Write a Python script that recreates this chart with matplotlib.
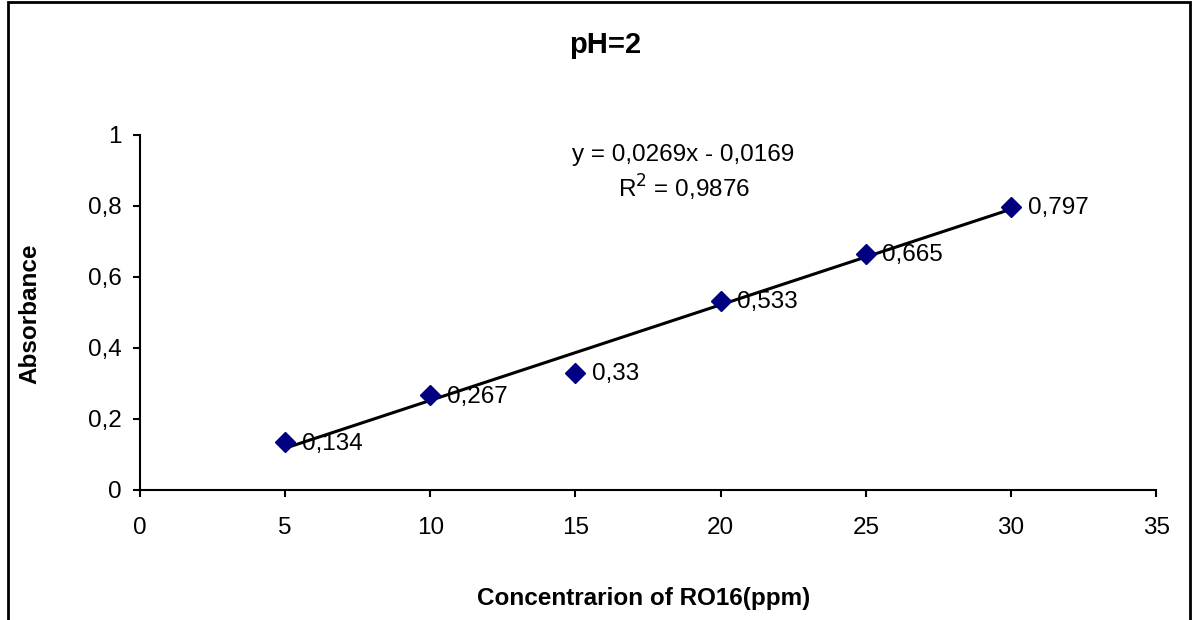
import numpy as np
import matplotlib.pyplot as plt
from matplotlib.patches import Rectangle

plt.rcParams['font.family'] = ['Liberation Sans', 'DejaVu Sans']

conc = [5, 10, 15, 20, 25, 30]
absorb = [0.134, 0.267, 0.33, 0.533, 0.665, 0.797]
point_labels = ['0,134', '0,267', '0,33', '0,533', '0,665', '0,797']
xticks = [0, 5, 10, 15, 20, 25, 30, 35]
yticks = [0, 0.2, 0.4, 0.6, 0.8, 1]
ytick_labels = ['0', '0,2', '0,4', '0,6', '0,8', '1']

# linear trendline
slope, icept = np.polyfit(conc, absorb, 1)
xfit = np.array([min(conc), max(conc)])

fig = plt.figure(figsize=(12, 6.2), dpi=100)
ax = fig.add_axes([0.1167, 0.2097, 0.8467, 0.5726])

ax.plot(xfit, slope * xfit + icept, color='black', lw=2.2, zorder=2)
ax.plot(conc, absorb, ls='none', marker='D', ms=10, color='#000080', zorder=3)
for x, y, t in zip(conc, absorb, point_labels):
    ax.annotate(t, (x, y), xytext=(12, -1), textcoords='offset points',
                ha='left', va='center', fontsize=17.5)

ax.text(0.535, 0.944, 'y = 0,0269x - 0,0169', transform=ax.transAxes,
        ha='center', va='center', fontsize=17.5)
ax.text(0.535, 0.852, 'R$^2$ = 0,9876', transform=ax.transAxes,
        ha='center', va='center', fontsize=17.5)

ax.set_xlim(0, 35)
ax.set_ylim(0, 1)
ax.set_xticks(xticks)
ax.set_yticks(yticks)
ax.set_yticklabels(ytick_labels)
ax.tick_params(direction='out', length=5, width=1.5, labelsize=17.5)
ax.tick_params(axis='x', pad=14.5)
ax.tick_params(axis='y', pad=8)
for s in ['top', 'right']:
    ax.spines[s].set_visible(False)
for s in ['left', 'bottom']:
    ax.spines[s].set_linewidth(1.5)

fig.text(0.504, 0.927, 'pH=2', ha='center', va='center', fontsize=21, fontweight='bold')
fig.text(0.536, 0.035, 'Concentrarion of RO16(ppm)', ha='center', va='center',
         fontsize=17.5, fontweight='bold')
fig.text(0.025, 0.494, 'Absorbance', ha='center', va='center', rotation=90,
         fontsize=17.5, fontweight='bold')

# outer chart border
fig.patches.append(Rectangle((8 / 1200, -0.05), 1182 / 1200, 1.047, transform=fig.transFigure,
                             fill=False, lw=2, edgecolor='black'))

fig.savefig('out.png', dpi=100)
